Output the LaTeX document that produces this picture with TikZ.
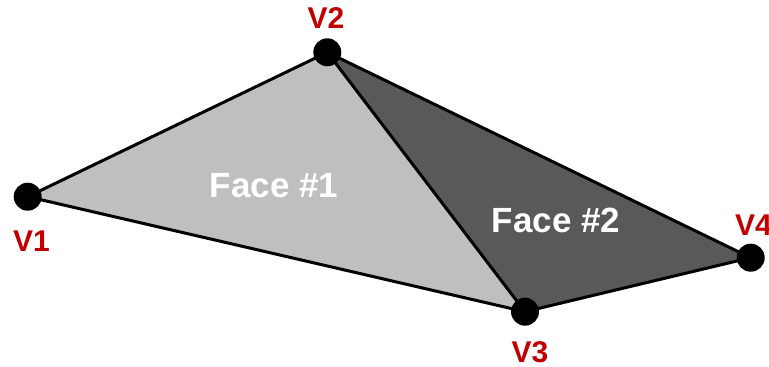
\documentclass[tikz,border=0pt]{standalone}
\usepackage{fontspec}
\setmainfont{Liberation Sans}
\definecolor{lightface}{HTML}{BFBFBF}
\definecolor{darkface}{HTML}{595959}
\definecolor{vred}{HTML}{C00000}
\begin{document}
\begin{tikzpicture}[x=1pt,y=-1pt,
  vert/.style={circle,fill=black,inner sep=0pt,minimum size=28pt},
  vlabel/.style={text=vred,font=\fontsize{30}{30}\selectfont\bfseries,anchor=base,inner sep=0pt},
  flabel/.style={text=white,font=\fontsize{35}{35}\selectfont\bfseries,anchor=base,inner sep=0pt},
  edge/.style={draw=black,line width=3pt,line join=round}]
\useasboundingbox (0,0) rectangle (769,367);
\coordinate (p1) at (27.7,196.7);
\coordinate (p2) at (327.3,52.3);
\coordinate (p3) at (525,311.7);
\coordinate (p4) at (750.7,257.7);
\fill[lightface] (p1) -- (p2) -- (p3) -- cycle;
\fill[darkface] (p2) -- (p4) -- (p3) -- cycle;
\draw[edge] (p1) -- (p2) -- (p3) -- cycle;
\draw[edge] (p2) -- (p4) -- (p3);
\node[vert] (v1) at (p1) {};
\node[vert] (v2) at (p2) {};
\node[vert] (v3) at (p3) {};
\node[vert] (v4) at (p4) {};
\node[flabel] (f1) at (274,197) {Face \#1};
\node[flabel] (f2) at (556,232) {Face \#2};
\node[vlabel] (l1) at (31.5,251.7) {V1};
\node[vlabel] (l2) at (326,28.3) {V2};
\node[vlabel] (l3) at (530,362.7) {V3};
\node[vlabel,anchor=base west] (l4) at (735,235) {V4};
\end{tikzpicture}
\end{document}
